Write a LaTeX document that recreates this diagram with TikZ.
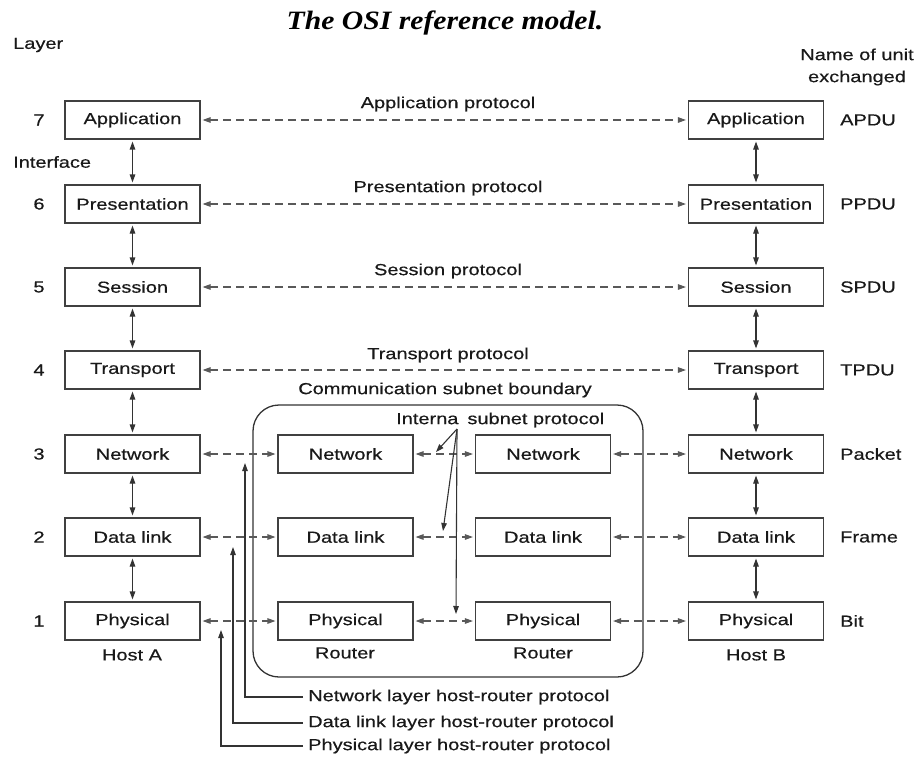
\documentclass[tikz,border=0pt]{standalone}
\usepackage{fontspec}
\setmainfont{Liberation Sans}[FakeStretch=1.25, FakeBold=0.5]
\newfontfamily\titlefont{Liberation Serif}[FakeStretch=1.12]
\usetikzlibrary{arrows.meta}
\begin{document}
\begin{tikzpicture}[x=1pt,y=-1pt,
  every node/.style={font=\fontsize{16}{19}\selectfont, text=black!90, inner sep=0pt},
  layerbox/.style={draw=black!75, line width=1.1pt, minimum width=135pt, minimum height=38pt},
  tip/.style={-{Triangle[length=8pt,width=5.5pt]}},
  twotip/.style={{Triangle[length=8pt,width=5.5pt]}-{Triangle[length=8pt,width=5.5pt]}},
  peer/.style={twotip, draw=black!65, line width=1.1pt, dash pattern=on 8pt off 5pt, shorten <=2pt, shorten >=2pt},
  iface/.style={twotip, draw=black!80, line width=1.1pt, shorten <=2pt, shorten >=2pt},
  solidln/.style={draw=black!80, line width=1.1pt}]
\useasboundingbox (0,0) rectangle (918,757);

% title and column headings
\node[font=\titlefont\bfseries\itshape\fontsize{26.5}{30}\selectfont, text=black] (title) at (445,23) {The OSI reference model.};
\node[anchor=west] (layerhd) at (13,45) {Layer};
\node[align=center, font=\fontsize{16}{22}\selectfont] (unithd) at (857,67) {Name of unit\\exchanged};
\node[anchor=west] (ifacelbl) at (13,162) {Interface};

% host stacks
\foreach \n/\lbl/\y/\num/\unit in {7/Application/120/7/APDU, 6/Presentation/204/6/PPDU, 5/Session/287/5/SPDU, 4/Transport/370/4/TPDU, 3/Network/454/3/Packet, 2/Data link/537/2/Frame, 1/Physical/621/1/Bit}{
  \node[layerbox] (a\n) at (132.5,\y) {\lbl};
  \node[layerbox] (b\n) at (756,\y) {\lbl};
  \node (num\n) at (39,\y) {\num};
  \node[anchor=west] (unit\n) at (840,\y) {\unit};
}
\node (hosta) at (132,655) {Host A};
\node (hostb) at (756,655) {Host B};

% interfaces between adjacent layers
\foreach \u/\l in {7/6,6/5,5/4,4/3,3/2,2/1}{
  \draw[iface] (a\u.south) -- (a\l.north);
  \draw[iface] (b\u.south) -- (b\l.north);
}

% end-to-end peer protocols
\foreach \n/\name/\y in {7/Application/104, 6/Presentation/188, 5/Session/271, 4/Transport/355}{
  \draw[peer] (a\n.east) -- (b\n.east -| b\n.west);
  \node (pl\n) at (448,\y) {\name\ protocol};
}

% communication subnet
\node[draw=black!80, line width=1.3pt, rounded corners=26pt, minimum width=390pt, minimum height=272pt] (subnet) at (448,541) {};
\node (subnetlbl) at (445,390) {Communication subnet boundary};

\foreach \n/\lbl/\y in {3/Network/454, 2/Data link/537, 1/Physical/621}{
  \node[layerbox] (r\n) at (345.5,\y) {\lbl};
  \node[layerbox] (s\n) at (543,\y) {\lbl};
  \draw[peer] (a\n.east) -- (r\n.west);
  \draw[peer] (r\n.east) -- (s\n.west);
  \draw[peer] (s\n.east) -- (b\n.west);
}
\node (routera) at (345,653) {Router};
\node (routerb) at (543,653) {Router};

% internal subnet protocol
\node[anchor=west] (intlbl) at (396,420) {Interna\hspace{9pt}subnet protocol};
\coordinate (ip) at (457,429);
\coordinate (ipn) at (436,452);
\coordinate (ipd) at (443,531);
\coordinate (ipp) at (456,614);
\draw[tip, solidln] (ip) -- (ipn);
\draw[tip, solidln] (ip) -- (ipd);
\draw[tip, solidln] (ip) -- (ipp);

% host-router protocols
\node[anchor=west] (nhr) at (308,697) {Network layer host-router protocol};
\node[anchor=west] (dhr) at (308,723) {Data link layer host-router protocol};
\node[anchor=west] (phr) at (308,746) {Physical layer host-router protocol};
\coordinate (nhrtip) at (245,463);
\coordinate (dhrtip) at (233,547);
\coordinate (phrtip) at (221,630);
\draw[tip, solidln] (nhr.west) ++(-5,0) -| (nhrtip);
\draw[tip, solidln] (dhr.west) ++(-5,0) -| (dhrtip);
\draw[tip, solidln] (phr.west) ++(-5,0) -| (phrtip);
\end{tikzpicture}
\end{document}
